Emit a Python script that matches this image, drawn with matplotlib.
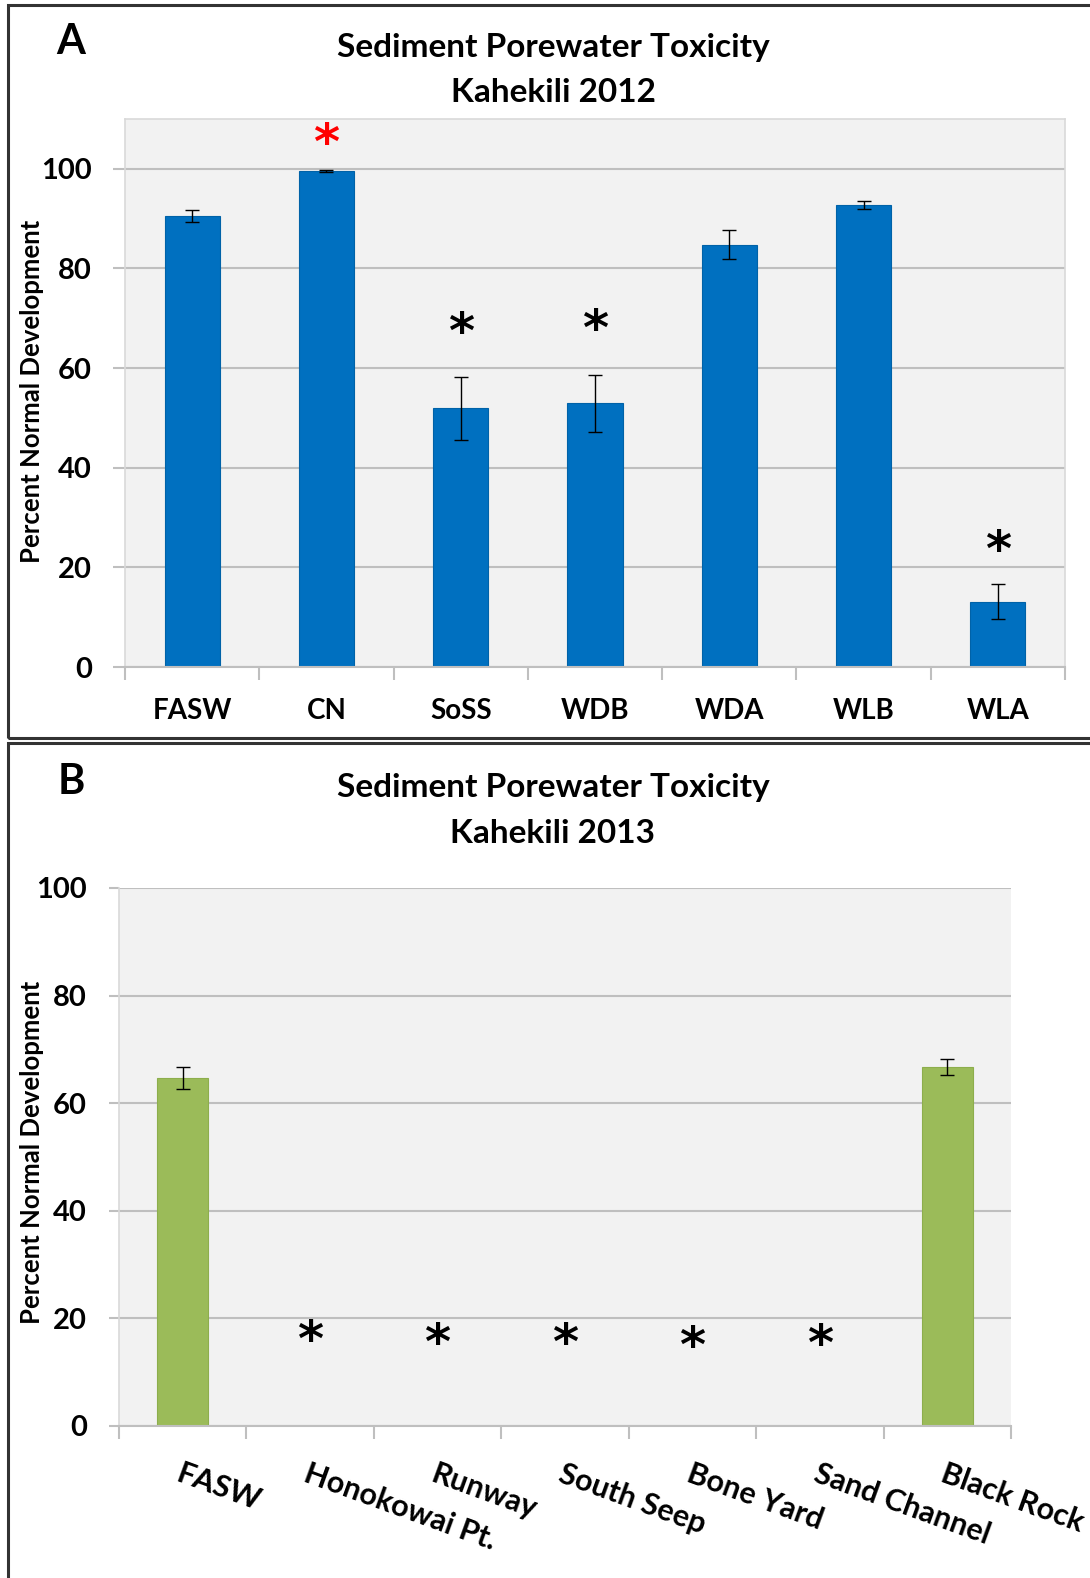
import numpy as np
import matplotlib.pyplot as plt
from matplotlib.patches import Rectangle
import matplotlib.transforms as mtransforms

plt.rcParams['font.family'] = ['Lato', 'DejaVu Sans']
plt.rcParams['font.weight'] = 'bold'

# panel A data (2012)
sites_a = ['FASW', 'CN', 'SoSS', 'WDB', 'WDA', 'WLB', 'WLA']
vals_a = [90.5, 99.6, 51.9, 52.9, 84.8, 92.7, 13.1]
errs_a = [1.2, 0.2, 6.4, 5.7, 3.0, 0.8, 3.5]
stars_a = [None, 106.5, 68.5, 69.0, None, None, 24.8]
star_colors_a = ['k', 'red', 'k', 'k', 'k', 'k', 'k']

# panel B data (2013)
sites_b = ['FASW', 'Honokowai Pt.', 'Runway', 'South Seep', 'Bone Yard', 'Sand Channel', 'Black Rock']
vals_b = [64.7, 0, 0, 0, 0, 0, 66.7]
errs_b = [2.0, 0, 0, 0, 0, 0, 1.5]
stars_b = [None, 17.2, 16.6, 16.6, 16.1, 16.4, None]

W, H = 1090, 1578
fig = plt.figure(figsize=(W / 100, H / 100), dpi=100)


def px(x0, y0, x1, y1):
    # pixel box (top-left origin) -> figure fraction rect
    return [x0 / W, 1 - y1 / H, (x1 - x0) / W, (y1 - y0) / H]


grid_c = '#BFBFBF'
bg = '#F2F2F2'


def style_axes(ax, n, ymax, tick_len, tick_pad):
    ax.set_facecolor(bg)
    ax.set_xlim(0, n)
    ax.set_ylim(0, ymax)
    ax.set_yticks([0, 20, 40, 60, 80, 100])
    ax.grid(axis='y', color=grid_c, lw=1.5)
    ax.set_axisbelow(True)
    ax.tick_params(axis='y', length=tick_len, width=1.5, color=grid_c, pad=tick_pad,
                   labelsize=21, labelcolor='black')
    ax.set_xticks(np.arange(n) + 0.5)
    ax.set_xticks(np.arange(n + 1), minor=True)
    ax.tick_params(axis='x', which='major', length=0)
    ax.tick_params(axis='x', which='minor', length=9, width=1.5, color=grid_c)
    for s in ax.spines.values():
        s.set_color('#D9D9D9')
        s.set_linewidth(1.2)
    ax.spines['bottom'].set_color(grid_c)
    ax.spines['bottom'].set_linewidth(1.5)


def add_star(ax, x, y, color):
    tr = mtransforms.offset_copy(ax.transData, fig=fig, x=0, y=-16, units='points')
    ax.text(x, y, '*', color=color, fontsize=36, family='DejaVu Sans', fontweight='bold',
            ha='center', va='baseline', transform=tr)


# ---- panel A ----
axA = fig.add_axes(px(125, 119, 1065, 667))
style_axes(axA, len(sites_a), 110, 9, 15)
xa = np.arange(len(sites_a)) + 0.5
axA.bar(xa, vals_a, width=0.41, color='#0070C0', edgecolor='#0062A8', lw=0.8, zorder=2)
axA.errorbar(xa, vals_a, yerr=errs_a, fmt='none', ecolor='black', elinewidth=1,
             capsize=5, capthick=1, zorder=3)
axA.set_xticklabels(sites_a, fontsize=20)
axA.tick_params(axis='x', which='major', pad=22)
for x, s, c in zip(xa, stars_a, star_colors_a):
    if s is not None:
        add_star(axA, x, s, c)

# ---- panel B ----
axB = fig.add_axes(px(119, 888, 1011, 1426))
style_axes(axB, len(sites_b), 100, 7, 16)
axB.spines['top'].set_visible(False)
axB.spines['right'].set_visible(False)
xb = np.arange(len(sites_b)) + 0.5
bar_idx = [i for i, v in enumerate(vals_b) if v > 0]
axB.bar(xb[bar_idx], [vals_b[i] for i in bar_idx], width=0.40, color='#9BBB59',
        edgecolor='#8DAE4C', lw=0.8, zorder=2)
axB.errorbar(xb[bar_idx], [vals_b[i] for i in bar_idx], yerr=[errs_b[i] for i in bar_idx],
             fmt='none', ecolor='black', elinewidth=1, capsize=5, capthick=1, zorder=3)
axB.set_xticklabels(sites_b, fontsize=22, rotation=-20, ha='left', va='top',
                    rotation_mode='anchor')
axB.tick_params(axis='x', which='major', pad=24)
for x, s in zip(xb, stars_b):
    if s is not None:
        add_star(axB, x, s, 'k')

# titles, panel letters, y labels
fig.text(553 / W, 1 - 48 / H, 'Sediment Porewater Toxicity', ha='center', va='center', fontsize=24)
fig.text(553 / W, 1 - 93 / H, 'Kahekili 2012', ha='center', va='center', fontsize=24)
fig.text(553 / W, 1 - 788 / H, 'Sediment Porewater Toxicity', ha='center', va='center', fontsize=24)
fig.text(553 / W, 1 - 833 / H, 'Kahekili 2013', ha='center', va='center', fontsize=24)
fig.text(71 / W, 1 - 42 / H, 'A', ha='center', va='center', fontsize=30)
fig.text(71 / W, 1 - 782 / H, 'B', ha='center', va='center', fontsize=30)
fig.text(32 / W, 1 - 391 / H, 'Percent Normal Development', rotation=90,
         ha='center', va='center', fontsize=18.5)
fig.text(32 / W, 1 - 1152 / H, 'Percent Normal Development', rotation=90,
         ha='center', va='center', fontsize=18.5)

# panel frames
fig.patches.append(Rectangle((8 / W, 1 - 738 / H), (1095 - 8) / W, (738 - 5) / H,
                             transform=fig.transFigure, fill=False, ec='#333333', lw=2.2))
fig.patches.append(Rectangle((8 / W, -0.02), (1095 - 8) / W, 1 - 743 / H + 0.02,
                             transform=fig.transFigure, fill=False, ec='#333333', lw=2.2))

fig.savefig('out.png', dpi=100)
